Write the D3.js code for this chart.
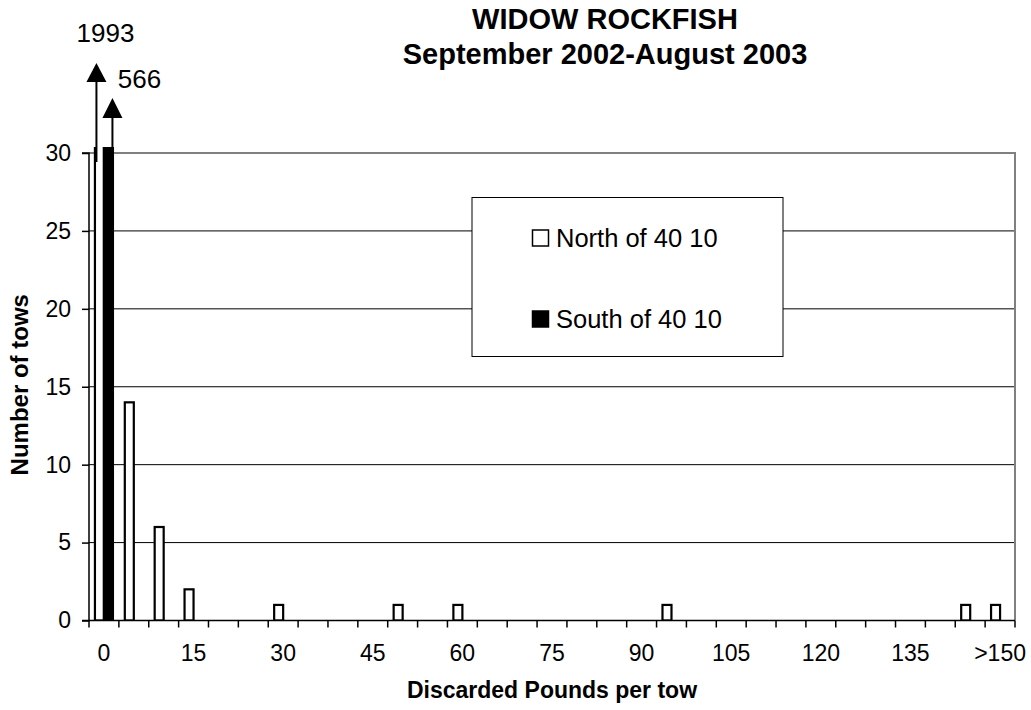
<!DOCTYPE html>
<html>
<head>
<meta charset="utf-8">
<script src="https://cdn.jsdelivr.net/npm/d3@7"></script>
<style>
  html, body { margin: 0; padding: 0; background: #fff; }
  svg { display: block; font-family: "Liberation Sans", Arial, sans-serif; }
</style>
</head>
<body>
<svg id="chart" width="1031" height="710"></svg>
<script>
const categories = ["0","5","10","15","20","25","30","35","40","45","50","55","60","65","70","75","80","85","90","95","100","105","110","115","120","125","130","135","140","145",">150"];
const northValues = [1993,14,6,2,0,0,1,0,0,0,1,0,1,0,0,0,0,0,0,1,0,0,0,0,0,0,0,0,0,1,1];
const southValues = [566,0,0,0,0,0,0,0,0,0,0,0,0,0,0,0,0,0,0,0,0,0,0,0,0,0,0,0,0,0,0];
const seriesNames = ["North of 40 10", "South of 40 10"];
const yTicks = [0,5,10,15,20,25,30];
const titleLines = ["WIDOW ROCKFISH", "September 2002-August 2003"];
const xTitle = "Discarded Pounds per tow";
const yTitle = "Number of tows";
const overflowLabels = ["1993", "566"];

(function() {
const svg = d3.select("#chart");
const pL = 89, pR = 1015, pT = 153, pB = 620.5;

const x = d3.scaleBand().domain(categories).range([pL, pR]).paddingInner(0).paddingOuter(0);
const bw = x.bandwidth();
const xs = d3.scaleBand().domain(["N","S"]).range([bw/2 - 9, bw/2 + 9]);
const y = d3.scaleLinear().domain([0, 30]).range([pB, pT]);

svg.append("defs").append("clipPath").attr("id","clip")
  .append("rect").attr("x", pL).attr("y", pT - 6).attr("width", pR-pL).attr("height", pB - pT + 6);

// gridlines
svg.append("g").selectAll("line").data(yTicks.filter(v => v > 0 && v < 30)).join("line")
  .attr("x1", pL).attr("x2", pR).attr("y1", d => y(d)).attr("y2", d => y(d))
  .attr("stroke", "#000").attr("stroke-width", 1);

// gray frame top & right
svg.append("path")
  .attr("d", `M${pL},${y(30)}H${pR}V${pB}`)
  .attr("fill","none").attr("stroke","#808080").attr("stroke-width",2);

// legend
const lg = svg.append("g");
lg.append("rect").attr("x", 472).attr("y", 197.5).attr("width", 311).attr("height", 159)
  .attr("fill","#fff").attr("stroke","#000").attr("stroke-width",1);
const legendItems = [{name: seriesNames[0], fill: "#fff", cy: 238}, {name: seriesNames[1], fill: "#000", cy: 319}];
legendItems.forEach(it => {
  lg.append("rect").attr("x", 532.5).attr("y", it.cy - 8).attr("width", 16).attr("height", 16)
    .attr("fill", it.fill).attr("stroke","#000").attr("stroke-width",1.5);
  lg.append("text").attr("x", 556).attr("y", it.cy).attr("dy","0.36em")
    .attr("font-size", 25.5).attr("fill","#000").text(it.name);
});

// bars
const bars = svg.append("g").attr("clip-path","url(#clip)");
const rows = categories.map((c,i) => ({c, N: northValues[i], S: southValues[i]}));
["N","S"].forEach(k => {
  bars.selectAll("rect."+k).data(rows.filter(d => d[k] > 0)).join("rect")
    .attr("class", k)
    .attr("x", d => x(d.c) + xs(k))
    .attr("width", xs.bandwidth())
    .attr("y", d => y(d[k]))
    .attr("height", d => pB - y(d[k]))
    .attr("fill", k === "N" ? "#fff" : "#000")
    .attr("stroke", "#000").attr("stroke-width", 2.2);
});

// y axis
const yAxis = d3.axisLeft(y).tickValues(yTicks).tickSize(7).tickPadding(11);
const gy = svg.append("g").attr("transform", `translate(${pL},0)`).call(yAxis);
gy.select(".domain").attr("stroke","#000").attr("stroke-width",1.5).attr("d", `M-7,${pB}H0V${y(30)}H-7`);
gy.selectAll(".tick line").attr("stroke","#000").attr("stroke-width",1.5);
gy.selectAll(".tick text").attr("font-size", 23).attr("font-family","Liberation Sans, Arial, sans-serif").attr("fill","#000");

// x axis
const gx = svg.append("g").attr("transform", `translate(0,${pB})`);
gx.append("line").attr("x1", pL).attr("x2", pR).attr("stroke","#000").attr("stroke-width",1.5);
const bounds = categories.map(c => x(c)).concat([pR]);
gx.selectAll("line.tk").data(bounds).join("line").attr("class","tk")
  .attr("x1", d => d).attr("x2", d => d).attr("y1", 0).attr("y2", 7)
  .attr("stroke","#000").attr("stroke-width",1.5);
gx.selectAll("text").data(categories.filter((c,i) => i % 3 === 0)).join("text")
  .attr("x", d => x(d) + bw/2).attr("y", 32).attr("dy","0.36em")
  .attr("text-anchor","middle").attr("font-size", 23).attr("fill","#000").text(d => d);

// axis titles
svg.append("text").attr("x", (pL+pR)/2).attr("y", 690).attr("dy","0.36em")
  .attr("text-anchor","middle").attr("font-size", 23).attr("font-weight","bold").text(xTitle);
svg.append("text").attr("transform", `translate(19,${(pT+pB)/2 - 2}) rotate(-90)`).attr("dy","0.36em")
  .attr("text-anchor","middle").attr("font-size", 24).attr("font-weight","bold").text(yTitle);

// title
const tt = svg.append("text").attr("text-anchor","middle").attr("font-size", 29).attr("font-weight","bold");
titleLines.forEach((l,i) => tt.append("tspan").attr("x", 605).attr("y", 29 + i*35).text(l));

// overflow arrows
function arrow(xPos, tipY, baseY, endY) {
  const g = svg.append("g");
  g.append("line").attr("x1", xPos).attr("x2", xPos).attr("y1", baseY).attr("y2", endY)
    .attr("stroke","#000").attr("stroke-width",2);
  g.append("path").attr("d", `M${xPos},${tipY}L${xPos-10},${baseY}L${xPos+10},${baseY}Z`).attr("fill","#000");
}
const c0 = categories[0];
const nX = x(c0) + xs("N") + 1.5;
const sX = x(c0) + xs("S") + xs.bandwidth() - 0.5;
arrow(nX, 63, 82, 162);
arrow(sX, 98, 118, 150);
svg.append("text").attr("x", nX + 9).attr("y", 41.5).attr("text-anchor","middle").attr("font-size", 26).text(overflowLabels[0]);
svg.append("text").attr("x", sX + 27).attr("y", 88).attr("text-anchor","middle").attr("font-size", 26).text(overflowLabels[1]);
})();
</script>
</body>
</html>
